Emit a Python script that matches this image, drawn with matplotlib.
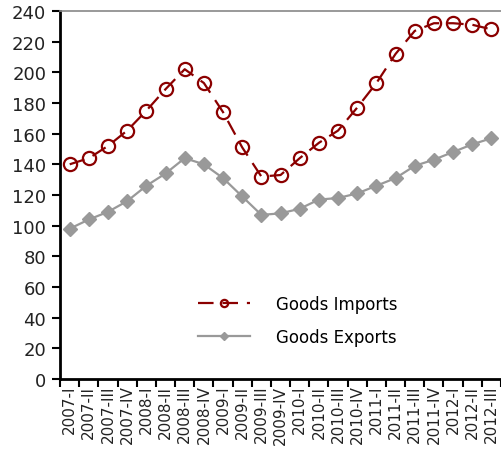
import numpy as np
import matplotlib
matplotlib.use('Agg')
from matplotlib import pyplot as plt

# quarters
quarters = ['2007-I', '2007-II', '2007-III', '2007-IV',
            '2008-I', '2008-II', '2008-III', '2008-IV',
            '2009-I', '2009-II', '2009-III', '2009-IV',
            '2010-I', '2010-II', '2010-III', '2010-IV',
            '2011-I', '2011-II', '2011-III', '2011-IV',
            '2012-I', '2012-II', '2012-III']

goods_imports = [140, 144, 152, 162, 175, 189, 202, 193, 174, 151, 132, 133,
                 144, 154, 162, 177, 193, 212, 227, 232, 232, 231, 228]
goods_exports = [98, 104, 109, 116, 126, 134, 144, 140, 131, 119, 107, 108,
                 111, 117, 118, 121, 126, 131, 139, 143, 148, 153, 157]

y_ticks = list(range(0, 241, 20))

plt.rcParams['font.family'] = ['DejaVu Sans']

fig = plt.figure(figsize=(5.01, 4.6), dpi=100)
ax = fig.add_axes([0.12, 0.174, 0.88, 0.80])

x = np.arange(len(quarters))
red = '#8b0000'
grey = '#999999'

ax.plot(x, goods_imports, color=red, lw=1.6, dashes=(7, 4),
        marker='o', ms=9.5, mfc='none', mec=red, mew=1.6, label='Goods Imports')
ax.plot(x, goods_exports, color=grey, lw=1.6,
        marker='D', ms=7, mfc=grey, mec=grey, label='Goods Exports')

ax.set_xlim(-0.5, len(quarters) - 0.5)
ax.set_ylim(0, 240)
ax.set_yticks(y_ticks)
ax.set_yticklabels([str(v) for v in y_ticks], fontsize=13, color='#222222')

# category labels centered, ticks at the boundaries
ax.set_xticks(x)
ax.set_xticklabels(quarters, rotation=90, fontsize=11, color='#222222')
ax.tick_params(axis='x', which='major', length=0, pad=4)
ax.set_xticks(np.arange(-0.5, len(quarters)), minor=True)
ax.tick_params(axis='x', which='minor', length=6, width=1.5, direction='out')
ax.tick_params(axis='y', length=6, width=1.5, direction='out', pad=4)

for s in ['left', 'bottom']:
    ax.spines[s].set_linewidth(2)
    ax.spines[s].set_color('black')
ax.spines['top'].set_color('#888888')
ax.spines['top'].set_linewidth(1.2)
ax.spines['right'].set_visible(False)

leg = ax.legend(loc='center left', bbox_to_anchor=(0.313, 0.16), frameon=False,
                fontsize=12, handlelength=3.1, handletextpad=1.6, labelspacing=0.9,
                borderpad=0, borderaxespad=0, markerscale=0.55)

fig.savefig('out.png', dpi=100)
